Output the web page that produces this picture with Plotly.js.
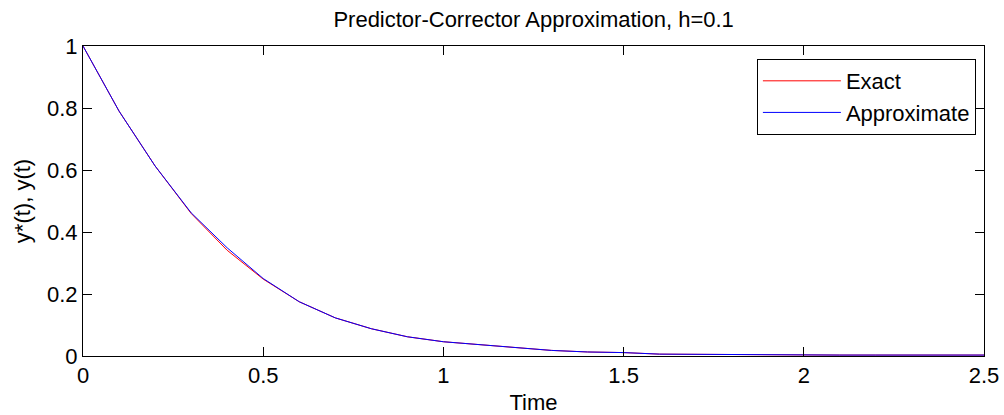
<!DOCTYPE html>
<html>
<head>
<meta charset="utf-8">
<script src="https://cdn.plot.ly/plotly-3.0.1.min.js"></script>
<style>
  html, body { margin: 0; padding: 0; background: #fff; }
  #chart { width: 1004px; height: 415px; }
</style>
</head>
<body>
<div id="chart"></div>
<script>
const timeValues = [0, 0.1, 0.2, 0.3, 0.4, 0.5, 0.6, 0.7, 0.8, 0.9, 1.0, 1.1, 1.2, 1.3, 1.4, 1.5, 1.6, 1.7, 1.8, 1.9, 2.0, 2.1, 2.2, 2.3, 2.4, 2.5];
const exactValues = [1, 0.79, 0.613, 0.46, 0.341, 0.248, 0.175, 0.123, 0.088, 0.062, 0.046, 0.036, 0.027, 0.018, 0.013, 0.011, 0.006, 0.005, 0.004, 0.004, 0.004, 0.003, 0.003, 0.003, 0.003, 0.003];
const approxValues = [1, 0.79, 0.613, 0.462, 0.349, 0.25, 0.175, 0.123, 0.088, 0.062, 0.046, 0.036, 0.027, 0.018, 0.013, 0.011, 0.006, 0.005, 0.004, 0.004, 0.004, 0.003, 0.003, 0.003, 0.003, 0.003];
const xTickVals = [0, 0.5, 1, 1.5, 2, 2.5];
const xTickText = ['0', '0.5', '1', '1.5', '2', '2.5'];
const yTickVals = [0, 0.2, 0.4, 0.6, 0.8, 1];
const yTickText = ['0', '0.2', '0.4', '0.6', '0.8', '1'];

const FONT = 'Liberation Sans, Arial, sans-serif';
const FS = 22;

const traces = [
  { x: timeValues, y: exactValues, name: 'Exact', type: 'scatter', mode: 'lines',
    line: { color: '#ff0000', width: 1 } },
  { x: timeValues, y: approxValues, name: 'Approximate', type: 'scatter', mode: 'lines',
    line: { color: '#0000ff', width: 1 } }
];

const axisCommon = {
  showgrid: false, zeroline: false, showline: true, linecolor: '#000', linewidth: 1,
  mirror: 'ticks', ticks: 'inside', ticklen: 9, tickwidth: 1, tickcolor: '#000',
  tickfont: { family: FONT, size: FS, color: '#000' }
};

const layout = {
  width: 1004, height: 415,
  margin: { l: 83, r: 20, t: 46, b: 59 },
  paper_bgcolor: '#fff', plot_bgcolor: '#fff',
  font: { family: FONT, color: '#000' },
  title: { text: 'Predictor-Corrector Approximation, h=0.1', font: { family: FONT, size: FS, color: '#000' },
           x: 0.5315, xanchor: 'center', y: 0.936, yanchor: 'bottom', yref: 'container' },
  xaxis: Object.assign({}, axisCommon, {
    range: [0, 2.5], tickmode: 'array', tickvals: xTickVals, ticktext: xTickText,
    title: { text: 'Time', font: { family: FONT, size: FS, color: '#000' }, standoff: 9 }
  }),
  yaxis: Object.assign({}, axisCommon, {
    range: [0, 1], tickmode: 'array', tickvals: yTickVals, ticktext: yTickText,
    title: { text: 'y*(t), y(t)', font: { family: FONT, size: FS, color: '#000' }, standoff: 10 }
  }),
  legend: {
    x: 0.991, xanchor: 'right', y: 0.958, yanchor: 'top',
    bgcolor: '#fff', bordercolor: '#000', borderwidth: 1,
    font: { family: FONT, size: FS, color: '#000' },
    itemwidth: 78, tracegroupgap: 0
  },
  showlegend: true
};

Plotly.newPlot('chart', traces, layout, { displayModeBar: false, staticPlot: true });
</script>
</body>
</html>
